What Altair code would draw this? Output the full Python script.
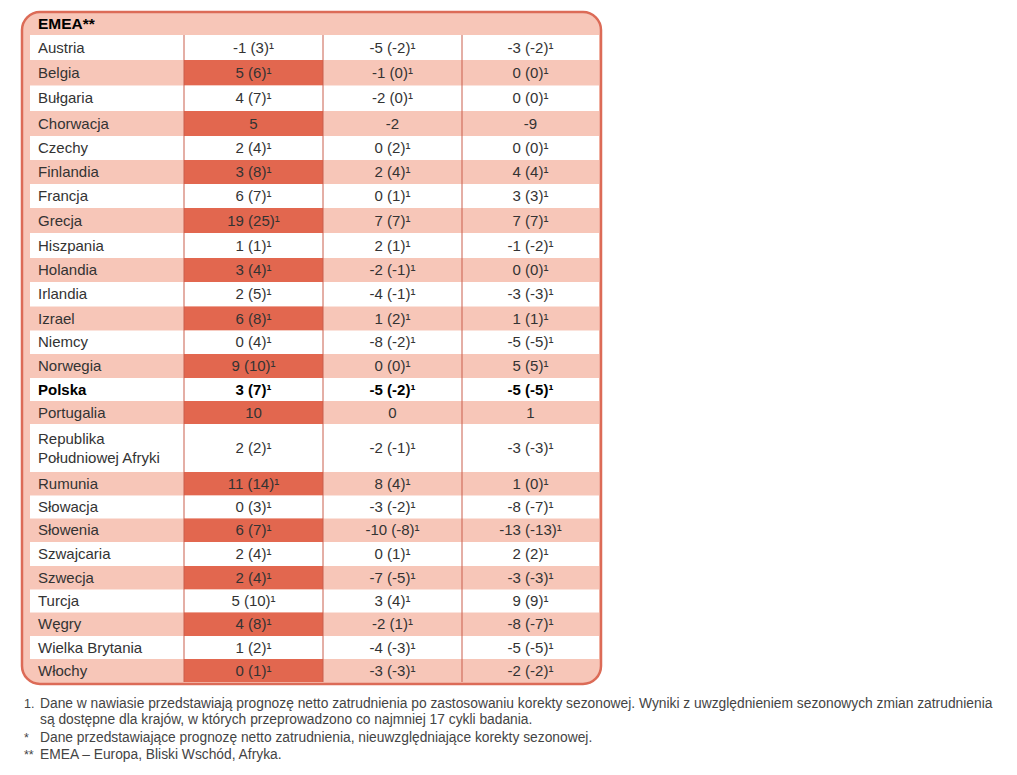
import altair as alt
import pandas as pd

# ---------------- data ----------------
countries = ["Austria", "Belgia", "Bułgaria", "Chorwacja", "Czechy", "Finlandia",
             "Francja", "Grecja", "Hiszpania", "Holandia", "Irlandia", "Izrael",
             "Niemcy", "Norwegia", "Polska", "Portugalia",
             "Republika\nPołudniowej Afryki", "Rumunia", "Słowacja", "Słowenia",
             "Szwajcaria", "Szwecja", "Turcja", "Węgry", "Wielka Brytania", "Włochy"]
col1_raw = [-1, 5, 4, 5, 2, 3, 6, 19, 1, 3, 2, 6, 0, 9, 3, 10, 2, 11, 0, 6, 2, 2, 5, 4, 1, 0]
col1_adj = [3, 6, 7, None, 4, 8, 7, 25, 1, 4, 5, 8, 4, 10, 7, None, 2, 14, 3, 7, 4, 4, 10, 8, 2, 1]
col2_raw = [-5, -1, -2, -2, 0, 2, 0, 7, 2, -2, -4, 1, -8, 0, -5, 0, -2, 8, -3, -10, 0, -7, 3, -2, -4, -3]
col2_adj = [-2, 0, 0, None, 2, 4, 1, 7, 1, -1, -1, 2, -2, 0, -2, None, -1, 4, -2, -8, 1, -5, 4, 1, -3, -3]
col3_raw = [-3, 0, 0, -9, 0, 4, 3, 7, -1, 0, -3, 1, -5, 5, -5, 1, -3, 1, -8, -13, 2, -3, 9, -8, -5, -2]
col3_adj = [-2, 0, 0, None, 0, 4, 3, 7, -2, 0, -3, 1, -5, 5, -5, None, -3, 0, -7, -13, 2, -3, 9, -7, -5, -2]
bold_rows = ["Polska"]
header_text = "EMEA**"
fn_marks = ["1.", "", "*", "**"]
fn_lines = [
    "Dane w nawiasie przedstawiają prognozę netto zatrudnienia po zastosowaniu korekty sezonowej. Wyniki z uwzględnieniem sezonowych zmian zatrudnienia",
    "są dostępne dla krajów, w których przeprowadzono co najmniej 17 cykli badania.",
    "Dane przedstawiające prognozę netto zatrudnienia, nieuwzględniające korekty sezonowej.",
    "EMEA – Europa, Bliski Wschód, Afryka.",
]

# ---------------- layout / style ----------------
W, H = 1001, 759
FRAME = dict(x=22, x2=601, y=12, y2=684)
COL_EDGES = [30, 184, 323, 462, 599]
HEADER_BOTTOM = 35
ROW_H = [25, 25.5, 25.5, 25, 24, 24, 24, 25, 25, 24, 24.5, 24, 23.5, 24, 23, 23,
         48, 23.5, 23, 23.5, 24, 23.5, 23, 23.5, 23, 23]
LINE_H = 19
FN_Y = [704, 720, 738, 755]
PINK = "#f7c6b8"
DARK = "#e2674f"
BORDER = "#dc6b57"
RULE = "#c95f4c"
TXT = "#333333"
FONT = "Liberation Sans"
FS = 15

xs = alt.Scale(domain=[8, 8 + W], range=[0, W])
ys = alt.Scale(domain=[8, 8 + H], range=[0, H])


def sup_label(raw, adj):
    return f"{raw}" if adj is None else f"{raw} ({adj})\u00b9"


rows = []
y = HEADER_BOTTOM
for i, c in enumerate(countries):
    h = ROW_H[i]
    rows.append(dict(country=c, i=i, y0=y, y1=y + h, yc=y + h / 2,
                     v1=sup_label(col1_raw[i], col1_adj[i]),
                     v2=sup_label(col2_raw[i], col2_adj[i]),
                     v3=sup_label(col3_raw[i], col3_adj[i]),
                     bold=c in bold_rows))
    y += h
TABLE_BOTTOM = y

cells = []
for r in rows:
    if r["i"] % 2 == 0:
        cells.append(dict(x0=COL_EDGES[0], x1=COL_EDGES[4], y0=r["y0"], y1=r["y1"], fill="white"))
    else:
        cells.append(dict(x0=COL_EDGES[1], x1=COL_EDGES[2], y0=r["y0"], y1=r["y1"], fill="dark"))
cdf = pd.DataFrame(cells)

texts = []
for r in rows:
    n = r["country"].count("\n")
    texts.append(dict(x=38, y=r["yc"] - n * LINE_H / 2, t=r["country"], align="left", bold=r["bold"]))
    for k, key in enumerate(["v1", "v2", "v3"]):
        cx = (COL_EDGES[k + 1] + COL_EDGES[k + 2]) / 2
        texts.append(dict(x=cx, y=r["yc"], t=r[key], align="center", bold=r["bold"]))
tdf = pd.DataFrame(texts)

frame_df = pd.DataFrame([FRAME])

frame_fill = alt.Chart(frame_df).mark_rect(cornerRadius=18, fill=PINK, strokeWidth=0).encode(
    x=alt.X("x:Q", scale=xs, axis=None), x2="x2:Q",
    y=alt.Y("y:Q", scale=ys, axis=None), y2="y2:Q")

cell_layer = alt.Chart(cdf).mark_rect(strokeWidth=0).encode(
    x=alt.X("x0:Q", scale=xs, axis=None), x2="x1:Q",
    y=alt.Y("y0:Q", scale=ys, axis=None), y2="y1:Q",
    fill=alt.Fill("fill:N", scale=alt.Scale(domain=["white", "dark"], range=["#ffffff", DARK]), legend=None))

rule_df = pd.DataFrame(dict(x=COL_EDGES[1:4], y0=[HEADER_BOTTOM] * 3, y1=[TABLE_BOTTOM] * 3))
rules = alt.Chart(rule_df).mark_rule(color=RULE, strokeWidth=1).encode(
    x=alt.X("x:Q", scale=xs, axis=None),
    y=alt.Y("y0:Q", scale=ys, axis=None), y2="y1:Q")

frame_stroke = alt.Chart(frame_df).mark_rect(cornerRadius=18, fillOpacity=0, stroke=BORDER, strokeWidth=2.5).encode(
    x=alt.X("x:Q", scale=xs, axis=None), x2="x2:Q",
    y=alt.Y("y:Q", scale=ys, axis=None), y2="y2:Q")


def text_layer(df, align, bold):
    sub = df[(df["align"] == align) & (df["bold"] == bold)]
    return alt.Chart(sub).mark_text(align=align, baseline="middle", font=FONT, fontSize=FS,
                                    color=("#000000" if bold else TXT),
                                    fontWeight=("bold" if bold else "normal"),
                                    lineBreak="\n", lineHeight=LINE_H).encode(
        x=alt.X("x:Q", scale=xs, axis=None),
        y=alt.Y("y:Q", scale=ys, axis=None),
        text="t:N")


header = alt.Chart(pd.DataFrame(dict(x=[38], y=[23.5], t=[header_text]))).mark_text(
    align="left", baseline="middle", font=FONT, fontSize=15.5, fontWeight="bold", color="#000000").encode(
    x=alt.X("x:Q", scale=xs, axis=None), y=alt.Y("y:Q", scale=ys, axis=None), text="t:N")

fn_df = pd.DataFrame(dict(m=fn_marks, t=fn_lines, y=FN_Y, xm=[24] * 4, xt=[40] * 4))
fn_text = alt.Chart(fn_df).mark_text(align="left", baseline="middle", font=FONT, fontSize=13.8, color="#444444").encode(
    x=alt.X("xt:Q", scale=xs, axis=None), y=alt.Y("y:Q", scale=ys, axis=None), text="t:N")
fn_mark = alt.Chart(fn_df).mark_text(align="left", baseline="middle", font=FONT, fontSize=12.5, color="#444444").encode(
    x=alt.X("xm:Q", scale=xs, axis=None), y=alt.Y("y:Q", scale=ys, axis=None), text="m:N")

chart = alt.layer(
    frame_fill, cell_layer, rules, frame_stroke, header,
    text_layer(tdf, "left", False), text_layer(tdf, "center", False),
    text_layer(tdf, "left", True), text_layer(tdf, "center", True),
    fn_text, fn_mark,
).properties(width=W, height=H, padding=0).configure_view(strokeWidth=0)

chart.save("out.html", embed_options={"renderer": "svg", "actions": False})
